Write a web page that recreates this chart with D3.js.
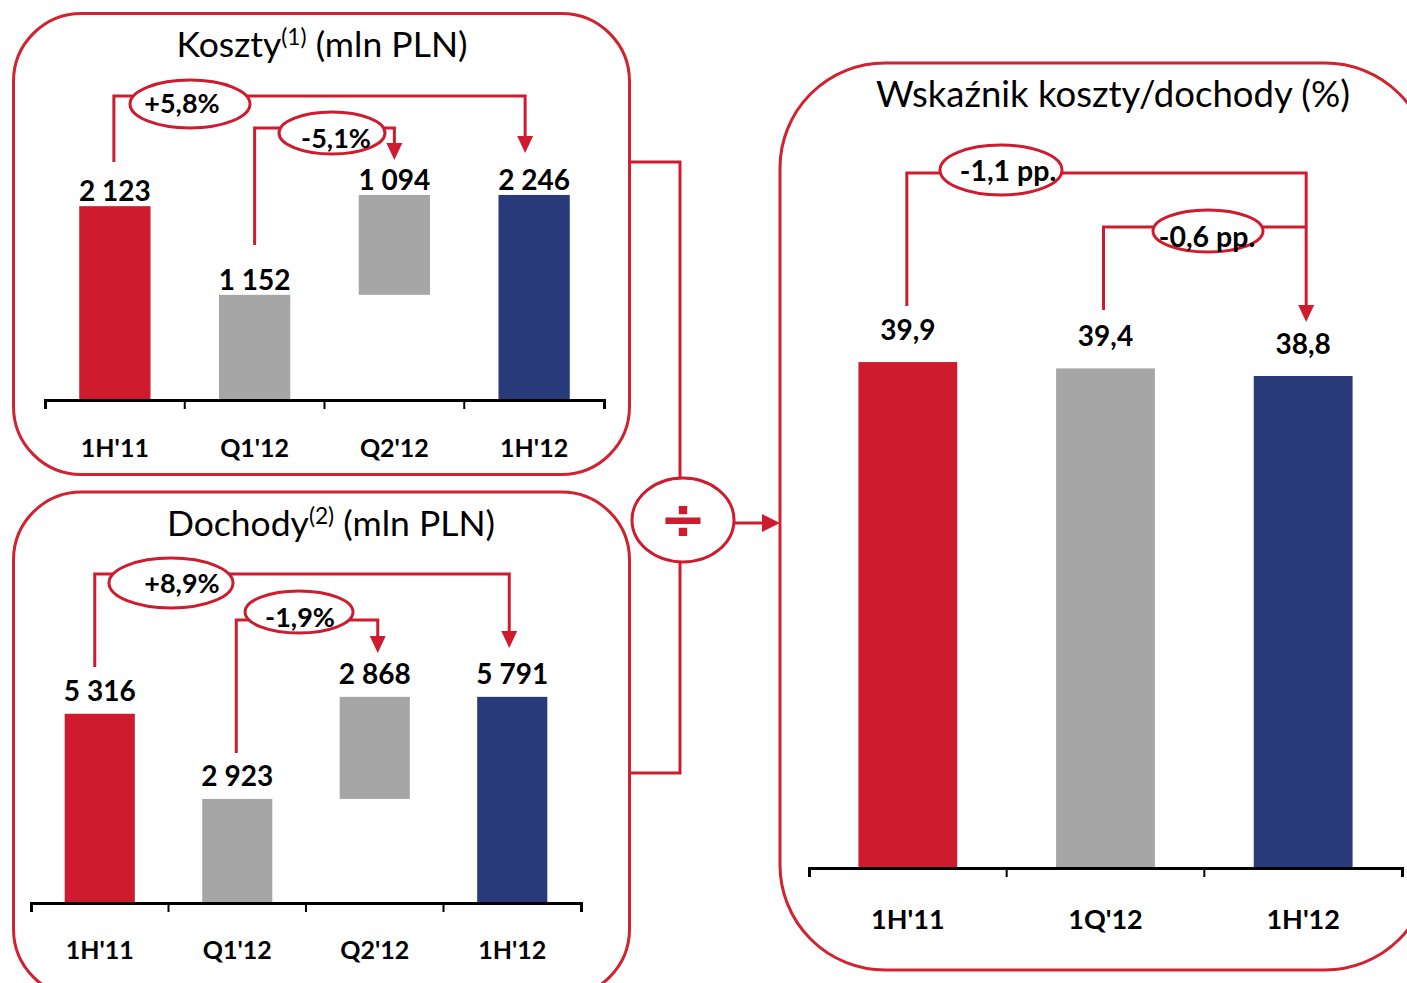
<!DOCTYPE html>
<html><head><meta charset="utf-8">
<script src="https://cdn.jsdelivr.net/npm/d3@7"></script>
<style>body{margin:0;background:#fff;} svg{display:block}</style>
</head><body>
<svg id="c" width="1407" height="983"></svg>
<script>
// ---------- data ----------
const categories = ["1H'11", "Q1'12", "Q2'12", "1H'12"];
const costValues = [2123, 1152, 1094, 2246];
const costValueLabels = ["2 123", "1 152", "1 094", "2 246"];
const incomeValues = [5316, 2923, 2868, 5791];
const incomeValueLabels = ["5 316", "2 923", "2 868", "5 791"];
const ratioCategories = ["1H'11", "1Q'12", "1H'12"];
const ratioValues = [39.9, 39.4, 38.8];
const ratioValueLabels = ["39,9", "39,4", "38,8"];
const costChanges = ["+5,8%", "-5,1%"];
const incomeChanges = ["+8,9%", "-1,9%"];
const ratioChanges = ["-1,1 pp.", "-0,6 pp."];

// ---------- style ----------
const RED = "#CE1C2E", GREY = "#A6A6A6", NAVY = "#283A7A", BORDER = "#D0222F";
const FONT = "Lato, 'Open Sans', sans-serif";
const svg = d3.select("#c");

function frame(x, y, w, h, r) {
  svg.append("rect").attr("x", x).attr("y", y).attr("width", w).attr("height", h)
    .attr("rx", r).attr("ry", r).attr("fill", "none")
    .attr("stroke", BORDER).attr("stroke-width", 3);
}

function title(x, y, main, sup, rest, size) {
  const t = svg.append("text").attr("x", x).attr("y", y).attr("text-anchor", "middle")
    .attr("font-family", FONT).attr("font-size", size).attr("fill", "#000");
  t.append("tspan").text(main);
  if (sup) {
    t.append("tspan").attr("font-size", size * 0.64).attr("dy", -size * 0.33).text(sup);
    t.append("tspan").attr("dy", size * 0.33).text(rest);
  } else t.append("tspan").text(rest);
}

// generic bar panel
function barPanel(cfg) {
  const g = svg.append("g");
  const x = d3.scaleBand().domain(cfg.cats).range(cfg.xRange)
    .paddingInner(cfg.pad).paddingOuter(cfg.pad / 2);
  const y = d3.scaleLinear().domain(cfg.yDomain).range(cfg.yRange);
  const spans = cfg.spans;
  g.selectAll("rect.bar").data(cfg.cats).join("rect").attr("class", "bar")
    .attr("x", d => x(d)).attr("width", x.bandwidth())
    .attr("y", (d, i) => y(spans[i][1]))
    .attr("height", (d, i) => y(spans[i][0]) - y(spans[i][1]))
    .attr("fill", (d, i) => cfg.colors[i]);
  g.selectAll("text.val").data(cfg.cats).join("text").attr("class", "val")
    .attr("x", d => x(d) + x.bandwidth() / 2)
    .attr("y", (d, i) => y(spans[i][1]) - cfg.labelGap)
    .attr("text-anchor", "middle").attr("font-family", FONT).attr("font-weight", 700)
    .attr("font-size", cfg.valSize).attr("fill", "#000")
    .text((d, i) => cfg.valLabels[i]);
  // axis
  const ax = g.append("g").attr("transform", `translate(0,${cfg.yRange[0]})`)
    .call(d3.axisBottom(x).tickSize(0).tickSizeOuter(9));
  ax.select(".domain").attr("stroke", "#000").attr("stroke-width", 3);
  ax.selectAll(".tick text").attr("y", cfg.catOffset).attr("dy", null)
    .attr("font-family", FONT).attr("font-weight", 700).attr("font-size", cfg.catSize).attr("fill", "#000");
  for (let i = 1; i < cfg.cats.length; i++) {
    const bx = cfg.xRange[0] + i * x.step();
    g.append("line").attr("x1", bx).attr("x2", bx).attr("y1", cfg.yRange[0]).attr("y2", cfg.yRange[0] + 9)
      .attr("stroke", "#000").attr("stroke-width", 2);
  }
  return { x, y, center: d => x(d) + x.bandwidth() / 2 };
}

function arrowHead(x, tip) {
  svg.append("path").attr("d", `M${x - 8},${tip - 17}L${x + 8},${tip - 17}L${x},${tip}Z`).attr("fill", RED);
}

function bracket(a) {
  const p = d3.path();
  p.moveTo(a.x1, a.yStart); p.lineTo(a.x1, a.yTop); p.lineTo(a.x2, a.yTop);
  if (a.tip) p.lineTo(a.x2, a.tip - 15);
  svg.append("path").attr("d", p.toString()).attr("fill", "none").attr("stroke", RED).attr("stroke-width", 3);
  if (a.tip) arrowHead(a.x2, a.tip);
  svg.append("ellipse").attr("cx", a.ex).attr("cy", a.ey).attr("rx", a.rx).attr("ry", a.ry)
    .attr("fill", "#fff").attr("stroke", RED).attr("stroke-width", 3);
  svg.append("text").attr("x", a.tx).attr("y", a.ty).attr("text-anchor", "middle")
    .attr("font-family", FONT).attr("font-weight", 700).attr("font-size", a.size).attr("fill", "#000")
    .text(a.label);
}

function waterfallSpans(vals) {
  return [[0, vals[0]], [0, vals[1]], [vals[1], vals[1] + vals[2]], [0, vals[3]]];
}

// ---------- frames ----------
frame(13.5, 13.5, 616, 461, 68);
frame(13.5, 492, 616, 505, 68);
frame(780, 63, 650, 907, 105);

// ---------- titles ----------
title(322, 57, "Koszty", "(1)", " (mln PLN)", 35.5);
title(331, 536, "Dochody", "(2)", " (mln PLN)", 35.5);
title(1113, 107, "Wskaźnik koszty/dochody (%)", null, "", 36.5);

// ---------- panels ----------
const colors4 = [RED, GREY, GREY, NAVY];
const p1 = barPanel({ cats: categories, xRange: [45, 604], pad: 0.49, yDomain: [0, 2500], yRange: [400, 171.75],
  spans: waterfallSpans(costValues), colors: colors4, valLabels: costValueLabels, labelGap: 5,
  valSize: 28, catSize: 25, catOffset: 57 });
const p2 = barPanel({ cats: categories, xRange: [31, 581], pad: 0.49, yDomain: [0, 6000], yRange: [903, 689.4],
  spans: waterfallSpans(incomeValues), colors: colors4, valLabels: incomeValueLabels, labelGap: 13,
  valSize: 28, catSize: 25, catOffset: 56 });
const p3 = barPanel({ cats: ratioCategories, xRange: [809, 1402], pad: 0.5, yDomain: [0, 40], yRange: [868, 360.8],
  spans: ratioValues.map(v => [0, v]), colors: [RED, GREY, NAVY], valLabels: ratioValueLabels, labelGap: 22,
  valSize: 28, catSize: 27, catOffset: 61 });

// ---------- change annotations ----------
bracket({ label: costChanges[0], x1: p1.center(categories[0]) - 1, x2: p1.center(categories[3]) - 9,
  yStart: 162, yTop: 96, tip: 153, ex: 190, ey: 104, rx: 60, ry: 24, tx: 182, ty: 113, size: 27 });
bracket({ label: costChanges[1], x1: p1.center(categories[1]), x2: p1.center(categories[2]),
  yStart: 245, yTop: 128, tip: 160, ex: 332, ey: 133, rx: 53, ry: 21, tx: 336, ty: 148, size: 27 });
bracket({ label: incomeChanges[0], x1: p2.center(categories[0]) - 5, x2: p2.center(categories[3]) - 3,
  yStart: 667, yTop: 574, tip: 648, ex: 171, ey: 583, rx: 62, ry: 25, tx: 182, ty: 593, size: 27 });
bracket({ label: incomeChanges[1], x1: p2.center(categories[1]) - 1, x2: p2.center(categories[2]) + 3,
  yStart: 753, yTop: 620, tip: 653, ex: 299, ey: 612, rx: 54, ry: 21, tx: 300, ty: 627, size: 27 });
bracket({ label: ratioChanges[0], x1: p3.center(ratioCategories[0]) - 1, x2: p3.center(ratioCategories[2]) + 3,
  yStart: 306, yTop: 173, tip: 322, ex: 1001, ey: 170, rx: 61, ry: 25, tx: 1008, ty: 181, size: 28.5 });
bracket({ label: ratioChanges[1], x1: p3.center(ratioCategories[1]) - 2, x2: p3.center(ratioCategories[2]) + 3,
  yStart: 310, yTop: 227, tip: null, ex: 1208, ey: 231, rx: 55, ry: 21, tx: 1207, ty: 247, size: 28.5 });

// ---------- division connector ----------
const conn = d3.path();
conn.moveTo(630, 162); conn.lineTo(680, 162); conn.lineTo(680, 478);
conn.moveTo(680, 562); conn.lineTo(680, 773); conn.lineTo(630, 773);
conn.moveTo(734, 523); conn.lineTo(764, 523);
svg.append("path").attr("d", conn.toString()).attr("fill", "none").attr("stroke", RED).attr("stroke-width", 3);
svg.append("path").attr("d", "M762,514L780,523L762,532Z").attr("fill", RED);
svg.append("ellipse").attr("cx", 683).attr("cy", 520).attr("rx", 51).attr("ry", 42)
  .attr("fill", "#fff").attr("stroke", RED).attr("stroke-width", 3);
svg.append("text").attr("x", 683).attr("y", 538).attr("text-anchor", "middle")
  .attr("font-family", "'DejaVu Sans', sans-serif").attr("font-weight", 700).attr("font-size", 56)
  .attr("fill", RED).text("÷");
</script>
</body></html>
